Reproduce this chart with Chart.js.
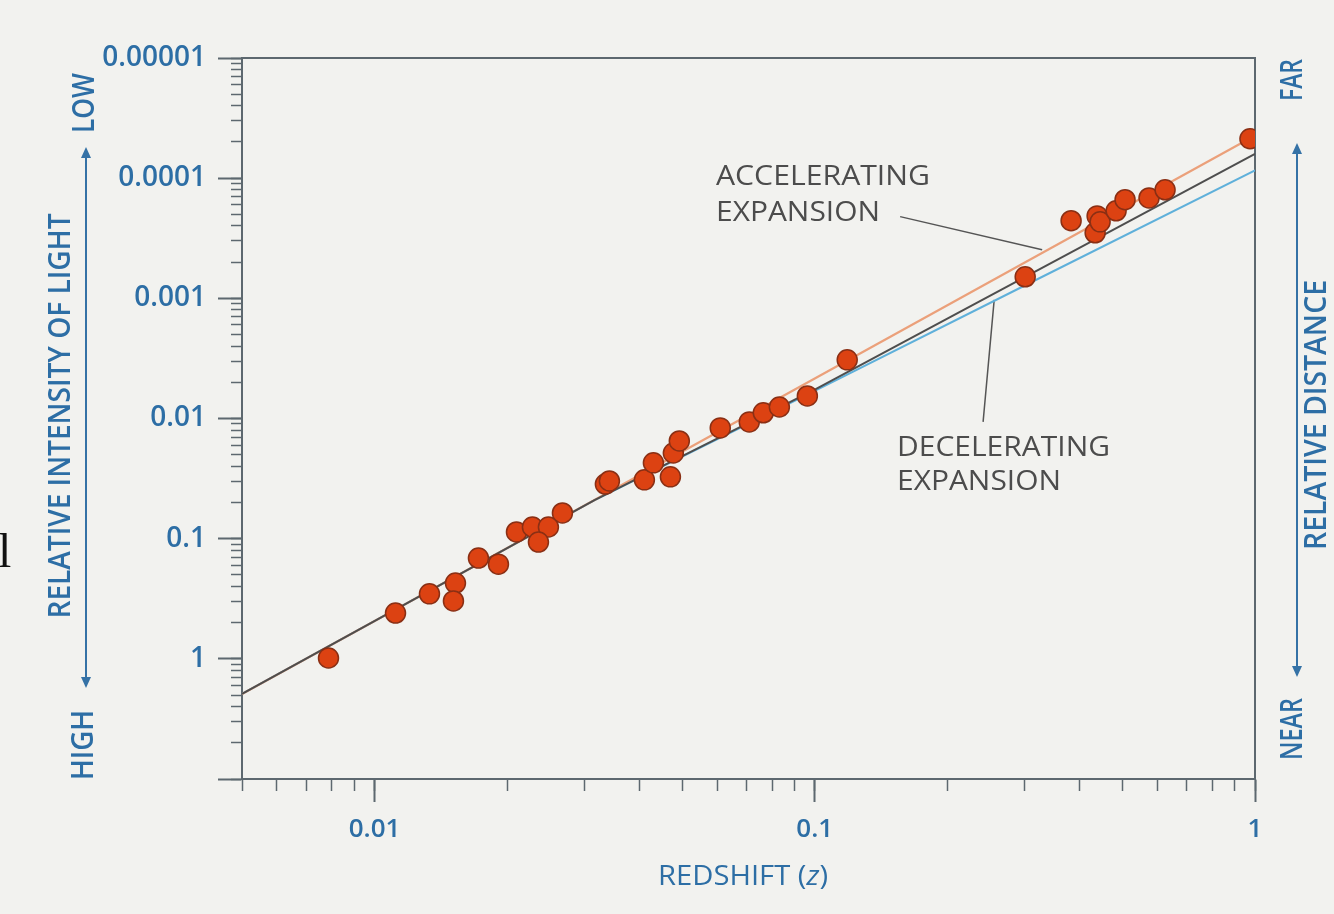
<!DOCTYPE html>
<html>
<head>
<meta charset="utf-8">
<script src="https://cdn.jsdelivr.net/npm/chart.js@4.4.0/dist/chart.umd.min.js"></script>
<style>
  body { margin: 0; background: #f2f2ef; }
  canvas { display: block; }
</style>
</head>
<body>
<canvas id="grafico" width="1334" height="914"></canvas>
<script>
// Datos
const redshift = [0.00786, 0.01116, 0.01333, 0.01527, 0.01511, 0.01722, 0.01912, 0.02101, 0.02284, 0.02483,
  0.02357, 0.02672, 0.03345, 0.03416, 0.04102, 0.0430, 0.0470, 0.04773, 0.04924, 0.0610,
  0.0710, 0.0764, 0.0831, 0.0962, 0.1185, 0.3006, 0.3822, 0.4334, 0.4379, 0.4448,
  0.4836, 0.5068, 0.5745, 0.6248, 0.974]
const intensidad = [0.984, 0.416, 0.288, 0.234, 0.330, 0.145, 0.163, 0.0879, 0.0800, 0.0800,
  0.1067, 0.0611, 0.0351, 0.0331, 0.0324, 0.0234, 0.0306, 0.01936, 0.01538, 0.01197,
  0.01067, 0.00897, 0.00802, 0.00649, 0.00325, 0.000662, 0.000226, 0.000285, 0.000206, 0.000231,
  0.000187, 0.000151, 0.000146, 0.000125, 0.0000470]

// curvas de los modelos
const zAcelerada = [0.005, 0.0316, 0.1, 0.3, 0.975]
const acelerada = [1.96, 0.0477, 0.00465, 0.000504, 0.0000465]
const zModelo = [0.005, 0.0316, 0.1, 0.3, 1]
const desacelerada = [1.96, 0.0477, 0.00575, 0.000666, 0.0000628]
const azul = [1.96, 0.0477, 0.00588, 0.000782, 0.0000861]

// etiquetas de los ejes
const etiquetasX = ['0.01', '0.1', '1']
const etiquetasY = ['0.00001', '0.0001', '0.001', '0.01', '0.1', '1']

const colorEje = '#5d686f'
const azulTexto = '#2d6ea5'
const fuente = "'Open Sans', sans-serif"

function puntos(xs, ys) {
    return xs.map((x, i) => ({ x: x, y: ys[i] }))
}

// marcas 1..9 x 10^e
function marcas(expMin, expMax, desde) {
    let lista = []
    for (let e = expMin; e < expMax; e++) {
        for (let k = 1; k < 10; k++) {
            let v = k * Math.pow(10, e)
            if (v >= desde * 0.9999) lista.push(v)
        }
    }
    lista.push(Math.pow(10, expMax))
    return lista
}
function potencias(expMin, expMax) {
    let lista = []
    for (let e = expMin; e <= expMax; e++) lista.push(Math.pow(10, e))
    return lista
}
function etiqueta(valor, lista, expMin) {
    let e = Math.log10(valor)
    let r = Math.round(e)
    if (Math.abs(e - r) > 1e-6) return ''
    return lista[r - expMin] || ''
}

function textoGirado(ctx, texto, x, y, largo, font, color) {
    ctx.save()
    ctx.translate(x, y)
    ctx.rotate(-Math.PI / 2)
    ctx.font = font
    let w = ctx.measureText(texto).width
    ctx.scale(largo / w, 1)
    ctx.fillStyle = color
    ctx.textAlign = 'center'
    ctx.textBaseline = 'middle'
    ctx.fillText(texto, 0, 0)
    ctx.restore()
}
function texto(ctx, t, x, y, ancho, font, color) {
    ctx.save()
    ctx.translate(x, y)
    ctx.font = font
    let w = ctx.measureText(t).width
    ctx.scale(ancho / w, 1)
    ctx.fillStyle = color
    ctx.textAlign = 'left'
    ctx.textBaseline = 'middle'
    ctx.fillText(t, 0, 0)
    ctx.restore()
}
function flecha(ctx, x, y1, y2, color) {
    // y1 = punta arriba, y2 = punta abajo
    ctx.save()
    ctx.strokeStyle = color
    ctx.fillStyle = color
    ctx.lineWidth = 2
    ctx.beginPath()
    ctx.moveTo(x, y1 + 8)
    ctx.lineTo(x, y2 - 8)
    ctx.stroke()
    ctx.beginPath()
    ctx.moveTo(x, y1); ctx.lineTo(x - 5, y1 + 11); ctx.lineTo(x + 5, y1 + 11); ctx.closePath()
    ctx.fill()
    ctx.beginPath()
    ctx.moveTo(x, y2); ctx.lineTo(x - 5, y2 - 11); ctx.lineTo(x + 5, y2 - 11); ctx.closePath()
    ctx.fill()
    ctx.restore()
}

const decoracion = {
    id: 'decoracion',
    beforeDatasetsDraw(chart) {
        const { ctx, chartArea: a, scales } = chart
        ctx.save()
        // marco superior y derecho
        ctx.strokeStyle = colorEje
        ctx.lineWidth = 2
        ctx.beginPath()
        ctx.moveTo(a.left, a.top)
        ctx.lineTo(a.right, a.top)
        ctx.lineTo(a.right, a.bottom)
        ctx.stroke()

        // lineas guia de los rotulos
        const px = v => scales.x.getPixelForValue(v)
        const py = v => scales.y.getPixelForValue(v)
        ctx.strokeStyle = '#555'
        ctx.lineWidth = 1.5
        ctx.beginPath()
        ctx.moveTo(px(0.1563), py(0.000209))
        ctx.lineTo(px(0.3285), py(0.000394))
        ctx.moveTo(px(0.2556), py(0.00103))
        ctx.lineTo(px(0.2412), py(0.01067))
        ctx.stroke()

        const gris = '#4c4c4c'
        const f = '400 27px ' + fuente
        texto(ctx, 'ACCELERATING', 716, 177, 214, f, gris)
        texto(ctx, 'EXPANSION', 716, 213, 164, f, gris)
        texto(ctx, 'DECELERATING', 897, 448, 213, f, gris)
        texto(ctx, 'EXPANSION', 897, 482, 164, f, gris)
        ctx.restore()
    },
    afterDraw(chart) {
        const ctx = chart.ctx
        ctx.save()
        const f = '600 30px ' + fuente
        // eje izquierdo
        textoGirado(ctx, 'LOW', 85, 103, 60, f, azulTexto)
        textoGirado(ctx, 'RELATIVE INTENSITY OF LIGHT', 61, 416, 405, f, azulTexto)
        textoGirado(ctx, 'HIGH', 84, 745, 70, f, azulTexto)
        flecha(ctx, 86, 147, 688, '#3572a6')
        // eje derecho
        textoGirado(ctx, 'FAR', 1293, 80, 42, f, azulTexto)
        textoGirado(ctx, 'RELATIVE DISTANCE', 1317, 415, 270, f, azulTexto)
        textoGirado(ctx, 'NEAR', 1293, 729, 62, f, azulTexto)
        flecha(ctx, 1297, 143, 677, '#3572a6')

        // titulo eje x con z en cursiva
        ctx.font = '500 27px ' + fuente
        let t1 = 'REDSHIFT ('
        let w1 = ctx.measureText(t1).width
        ctx.font = 'italic 500 27px ' + fuente
        let w2 = ctx.measureText('z').width
        ctx.font = '500 27px ' + fuente
        let w3 = ctx.measureText(')').width
        let total = w1 + w2 + w3
        ctx.save()
        ctx.translate(658, 877)
        ctx.scale(170 / total, 1)
        ctx.fillStyle = azulTexto
        ctx.textBaseline = 'middle'
        ctx.textAlign = 'left'
        ctx.fillText(t1, 0, 0)
        ctx.font = 'italic 500 27px ' + fuente
        ctx.fillText('z', w1, 0)
        ctx.font = '500 27px ' + fuente
        ctx.fillText(')', w1 + w2, 0)
        ctx.restore()

        // caracter suelto del borde izquierdo
        ctx.font = '48px "Liberation Serif", serif'
        ctx.fillStyle = '#111'
        ctx.textBaseline = 'alphabetic'
        ctx.fillText('l', -2, 567)
        ctx.restore()
    }
}

const ctx = document.getElementById('grafico')
new Chart(ctx, {
    type: 'scatter',
    data: {
        datasets: [
            {
                label: 'Supernovas',
                data: puntos(redshift, intensidad),
                backgroundColor: '#dc4212',
                borderColor: '#8a2f14',
                borderWidth: 1.5,
                pointRadius: 10,
                order: 0,
            },
            {
                label: 'Desacelerada',
                data: puntos(zModelo, desacelerada),
                showLine: true,
                borderColor: '#4e4e4e',
                borderWidth: 2,
                pointRadius: 0,
                order: 1,
            },
            {
                label: 'Acelerada',
                data: puntos(zAcelerada, acelerada),
                showLine: true,
                borderColor: '#eba07a',
                borderWidth: 2.2,
                pointRadius: 0,
                order: 2,
            },
            {
                label: 'Azul',
                data: puntos(zModelo, azul),
                showLine: true,
                borderColor: '#5fb0da',
                borderWidth: 2,
                pointRadius: 0,
                order: 3,
            },
        ]
    },
    options: {
        responsive: false,
        animation: false,
        events: [],
        layout: { padding: { top: 58, right: 79, bottom: 0, left: 0 } },
        plugins: {
            legend: { display: false },
            tooltip: { enabled: false },
        },
        scales: {
            x: {
                type: 'logarithmic',
                position: 'bottom',
                weight: 1,
                min: 0.005,
                max: 1,
                afterBuildTicks: s => { s.ticks = potencias(-2, 0).map(v => ({ value: v })) },
                afterFit: s => { s.height = 135 },
                border: { display: true, color: colorEje, width: 2 },
                grid: { drawOnChartArea: false, tickLength: 23, tickWidth: 2, tickColor: colorEje },
                ticks: {
                    autoSkip: false,
                    maxRotation: 0,
                    padding: 12,
                    color: azulTexto,
                    font: { family: fuente, size: 26, weight: '600' },
                    callback: v => etiqueta(v, etiquetasX, -2),
                },
            },
            xMenor: {
                type: 'logarithmic',
                position: 'bottom',
                weight: 0,
                min: 0.005,
                max: 1,
                afterBuildTicks: s => { s.ticks = marcas(-3, 0, 0.005).map(v => ({ value: v })) },
                afterFit: s => { s.height = 0 },
                border: { display: false },
                grid: { drawOnChartArea: false, tickLength: 12, tickWidth: 1.5, tickColor: colorEje },
                ticks: { autoSkip: false, maxRotation: 0, callback: () => '' },
            },
            y: {
                type: 'logarithmic',
                position: 'left',
                weight: 1,
                reverse: true,
                min: 0.00001,
                max: 10,
                afterBuildTicks: s => { s.ticks = potencias(-5, 1).map(v => ({ value: v })) },
                afterFit: s => { s.width = 242 },
                border: { display: true, color: colorEje, width: 2 },
                grid: { drawOnChartArea: false, tickLength: 24, tickWidth: 2, tickColor: colorEje },
                ticks: {
                    autoSkip: false,
                    padding: 12,
                    color: azulTexto,
                    font: { family: fuente, size: 28, weight: '600' },
                    callback: v => etiqueta(v, etiquetasY, -5),
                },
            },
            // marcas menores del eje vertical (densas hacia arriba, como en el original)
            yMenor: {
                type: 'logarithmic',
                position: 'left',
                weight: 0,
                min: 1,
                max: 1000000,
                afterBuildTicks: s => { s.ticks = marcas(0, 6, 1).map(v => ({ value: v })) },
                afterFit: s => { s.width = 0 },
                border: { display: false },
                grid: { drawOnChartArea: false, tickLength: 11, tickWidth: 1.5, tickColor: colorEje },
                ticks: { autoSkip: false, callback: () => '' },
            },
        }
    },
    plugins: [decoracion]
});
</script>
</body>
</html>
